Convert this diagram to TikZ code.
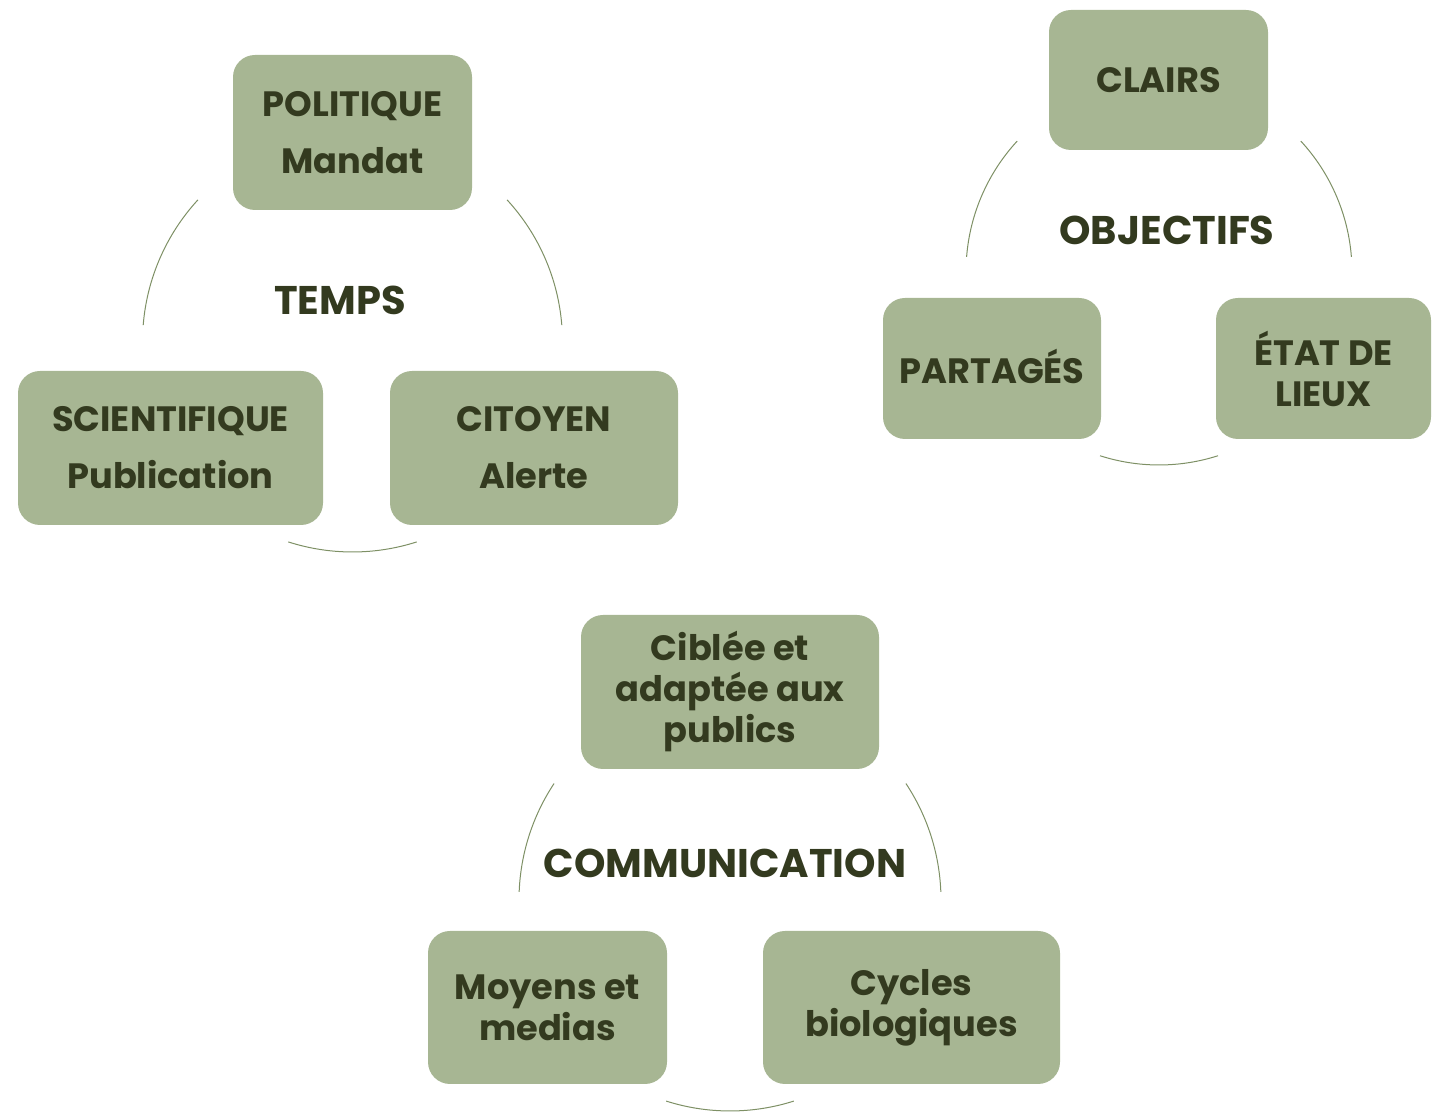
\documentclass[tikz,border=0pt]{standalone}
\usepackage{fontspec}
\setmainfont{Poppins}
\usepackage{tikz}

\definecolor{sage}{HTML}{A7B693}
\definecolor{olive}{HTML}{333A1F}
\definecolor{arcline}{HTML}{7E9065}

\begin{document}
\begin{tikzpicture}[x=0.5pt,y=0.5pt,
  box/.style={fill=sage, rounded corners=11pt, text=olive, align=center,
    font=\bfseries\fontsize{17.6}{20.5}\selectfont, inner sep=0pt},
  wide/.style={font=\bfseries\fontsize{17.6}{28.5}\selectfont},
  hub/.style={text=olive, font=\bfseries\fontsize{20}{24}\selectfont},
  ring/.style={draw=arcline, line width=0.5pt}]
\useasboundingbox (0,0) rectangle (1432,1117);
% TEMPS
\coordinate (c1) at (352.5,775);
\node [box, wide, minimum width=119.5pt, minimum height=77.5pt] (politique) at (352.5,984.5) {POLITIQUE\\Mandat};
\node [box, wide, minimum width=152.5pt, minimum height=77pt] (scientifique) at (170.5,669) {SCIENTIFIQUE\\Publication};
\node [box, wide, minimum width=144pt, minimum height=77pt] (citoyen) at (534,669) {CITOYEN\\Alerte};
\node [hub] (temps) at (340,817) {TEMPS};
\draw [ring] ([shift={(137.4:105pt)}]c1) arc (137.4:175.4:105pt);
\draw [ring] ([shift={(42.6:105pt)}]c1) arc (42.6:4.6:105pt);
\draw [ring] ([shift={(252.2:105pt)}]c1) arc (252.2:287.8:105pt);
% OBJECTIFS
\coordinate (c2) at (1159,845);
\node [box, minimum width=109.5pt, minimum height=70pt] (clairs) at (1158.5,1037) {CLAIRS};
\node [box, minimum width=109pt, minimum height=70.5pt] (partages) at (992,748.5) {\raisebox{2pt}{PARTAGÉS}};
\node [box, minimum width=107.5pt, minimum height=70.5pt] (etat) at (1323.5,748.5) {ÉTAT DE\\LIEUX};
\node [hub] (objectifs) at (1167,887) {OBJECTIFS};
\draw [ring] ([shift={(137.3:96.5pt)}]c2) arc (137.3:175.5:96.5pt);
\draw [ring] ([shift={(42.7:96.5pt)}]c2) arc (42.7:4.5:96.5pt);
\draw [ring] ([shift={(252.2:96.5pt)}]c2) arc (252.2:287.8:96.5pt);
% COMMUNICATION
\coordinate (c3) at (730,217);
\node [box, minimum width=149pt, minimum height=77pt] (ciblee) at (730,425) {Ciblée et\\adaptée aux\\publics};
\node [box, minimum width=119.5pt, minimum height=76.5pt] (moyens) at (547.5,109.5) {Moyens et\\medias};
\node [box, minimum width=148.5pt, minimum height=76.5pt] (cycles) at (911.5,109.5) {Cycles\\biologiques};
\node [hub] (communication) at (725,254) {COMMUNICATION};
\draw [ring] ([shift={(146.5:105.5pt)}]c3) arc (146.5:177.8:105.5pt);
\draw [ring] ([shift={(33.5:105.5pt)}]c3) arc (33.5:2.2:105.5pt);
\draw [ring] ([shift={(252.4:105.5pt)}]c3) arc (252.4:287.6:105.5pt);
\end{tikzpicture}
\end{document}
